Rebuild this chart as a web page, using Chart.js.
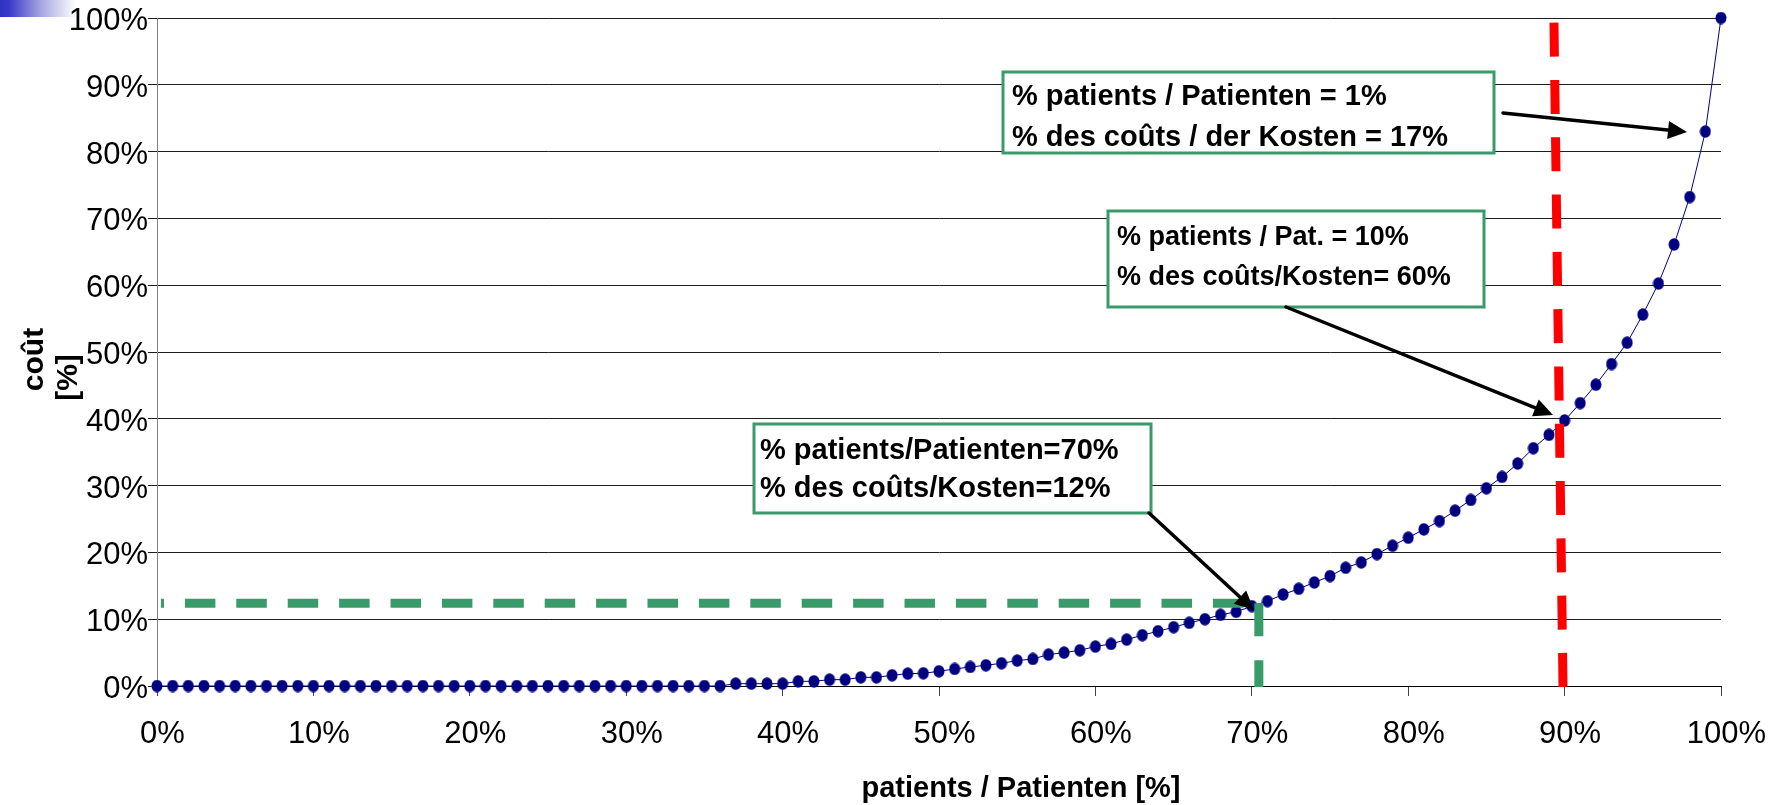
<!DOCTYPE html>
<html><head><meta charset="utf-8">
<script src="https://cdn.jsdelivr.net/npm/chart.js@4.4.0/dist/chart.umd.min.js"></script>
<style>html,body{margin:0;padding:0;background:#fff;overflow:hidden}#wrap{width:1787px;height:805px;position:relative}</style>
</head><body><div id="wrap"><canvas id="c" width="1787" height="805"></canvas></div>
<script>
// ---- data ----
const patientPct = [0,1,2,3,4,5,6,7,8,9,10,11,12,13,14,15,16,17,18,19,20,21,22,23,24,25,26,27,28,29,30,31,32,33,34,35,36,37,38,39,40,41,42,43,44,45,46,47,48,49,50,51,52,53,54,55,56,57,58,59,60,61,62,63,64,65,66,67,68,69,70,71,72,73,74,75,76,77,78,79,80,81,82,83,84,85,86,87,88,89,90,91,92,93,94,95,96,97,98,99,100];
const costPct = [0,0,0,0,0,0,0,0,0,0,0,0,0,0,0,0,0,0,0,0,0,0,0,0,0,0,0,0,0,0,0,0,0,0,0,0,0,
  0.35,0.35,0.35,0.35,0.7,0.7,0.95,0.95,1.3,1.3,1.6,1.85,1.9,
  2.2,2.55,2.85,3.1,3.4,3.8,4.05,4.7,5.0,5.35,5.9,6.3,6.95,7.6,8.2,8.8,9.45,10.0,10.65,11.1,
  11.95,12.7,13.7,14.55,15.5,16.45,17.7,18.5,19.75,21.0,22.2,23.45,24.7,26.25,27.85,29.6,31.3,33.3,35.6,37.6,
  39.75,42.35,45.1,48.2,51.4,55.6,60.25,66.1,73.2,83.0,100];
const xTickLabels = ['0%','10%','20%','30%','40%','50%','60%','70%','80%','90%','100%'];
const yTickLabels = ['0%','10%','20%','30%','40%','50%','60%','70%','80%','90%','100%'];
const xAxisTitle = 'patients / Patienten [%]';
const yAxisTitle = ['coût', '[%]'];
const box1Lines = ['% patients / Patienten = 1%', '% des coûts / der Kosten = 17%'];
const box2Lines = ['% patients / Pat. = 10%', '% des coûts/Kosten= 60%'];
const box3Lines = ['% patients/Patienten=70%', '% des coûts/Kosten=12%'];
// reference lines (values in %)
const greenRefCost = 12.4, greenRefPatients = 70.45;
const redRefPatientsTop = 89.32, redRefPatientsBottom = 89.9;

const FONT = '"Liberation Sans", Arial, Helvetica, sans-serif';
const GREEN = '#389b69';

// slightly tall elliptical marker like the reference
const marker = document.createElement('canvas');
marker.width = 12; marker.height = 13;
(function () {
  const m = marker.getContext('2d');
  m.fillStyle = '#000080';
  m.beginPath(); m.ellipse(6, 6.5, 5.5, 6.2, 0, 0, Math.PI * 2); m.fill();
})();

function arrow(ctx, x1, y1, x2, y2) {
  const ang = Math.atan2(y2 - y1, x2 - x1);
  const hl = 19, hw = 9;
  const bx = x2 - hl * Math.cos(ang), by = y2 - hl * Math.sin(ang);
  ctx.save();
  ctx.strokeStyle = '#000'; ctx.fillStyle = '#000'; ctx.lineWidth = 3.5; ctx.lineCap = 'round';
  ctx.beginPath(); ctx.moveTo(x1, y1); ctx.lineTo(bx + 2 * Math.cos(ang), by + 2 * Math.sin(ang)); ctx.stroke();
  ctx.beginPath();
  ctx.moveTo(x2, y2);
  ctx.lineTo(bx + hw * Math.sin(ang), by - hw * Math.cos(ang));
  ctx.lineTo(bx - hw * Math.sin(ang), by + hw * Math.cos(ang));
  ctx.closePath(); ctx.fill();
  ctx.restore();
}
function textBox(ctx, x1, y1, x2, y2, lines, tx, baselines, size) {
  ctx.save();
  ctx.fillStyle = '#fff';
  ctx.fillRect(x1, y1, x2 - x1, y2 - y1);
  ctx.strokeStyle = GREEN; ctx.lineWidth = 3;
  ctx.strokeRect(x1, y1, x2 - x1, y2 - y1);
  ctx.fillStyle = '#000';
  ctx.font = 'bold ' + size + 'px ' + FONT;
  ctx.textAlign = 'left'; ctx.textBaseline = 'alphabetic';
  lines.forEach((l, i) => ctx.fillText(l, tx, baselines[i]));
  ctx.restore();
}

const decorPlugin = {
  id: 'decor',
  beforeDraw(chart) {
    const ctx = chart.ctx;
    ctx.save();
    ctx.fillStyle = '#fff';
    ctx.fillRect(0, 0, chart.width, chart.height);
    const g = ctx.createLinearGradient(0, 0, 76, 0);
    g.addColorStop(0, '#3030c6');
    g.addColorStop(0.12, '#3a3ac9');
    g.addColorStop(0.55, '#a8a8e2');
    g.addColorStop(1, '#ffffff');
    ctx.fillStyle = g;
    ctx.fillRect(0, 0, 76, 17);
    ctx.restore();
  },
  afterDatasetsDraw(chart) {
    const ctx = chart.ctx;
    const xs = chart.scales.x, ys = chart.scales.y;
    ctx.save();
    ctx.lineCap = 'butt';
    // green dashed reference lines
    const gy = ys.getPixelForValue(greenRefCost);
    const gx = xs.getPixelForValue(greenRefPatients);
    ctx.strokeStyle = GREEN; ctx.lineWidth = 9;
    ctx.setLineDash([30.5, 20.9]);
    ctx.lineDashOffset = 27.4;
    ctx.beginPath(); ctx.moveTo(xs.getPixelForValue(0.25), gy); ctx.lineTo(gx, gy); ctx.stroke();
    ctx.setLineDash([33, 24]); ctx.lineDashOffset = 0;
    ctx.beginPath(); ctx.moveTo(gx, gy); ctx.lineTo(gx, ys.getPixelForValue(-0.15)); ctx.stroke();
    // red dashed line
    ctx.strokeStyle = '#ff0000'; ctx.lineWidth = 9;
    ctx.setLineDash([34, 23.3]); ctx.lineDashOffset = 0;
    ctx.beginPath();
    ctx.moveTo(xs.getPixelForValue(redRefPatientsTop), ys.getPixelForValue(99.3));
    ctx.lineTo(xs.getPixelForValue(redRefPatientsBottom), ys.getPixelForValue(-0.25));
    ctx.stroke();
    ctx.setLineDash([]);
    ctx.restore();
    // boxes
    textBox(ctx, 1003, 72, 1494, 153, box1Lines, 1012, [105, 146], 29);
    textBox(ctx, 1108, 211, 1484, 307, box2Lines, 1117, [245, 285], 27);
    textBox(ctx, 754, 424, 1151, 513, box3Lines, 760, [459, 497], 29);
    // arrows
    arrow(ctx, 1503, 113, 1687, 132);
    arrow(ctx, 1286, 307, 1553, 415);
    arrow(ctx, 1149, 513, 1254, 610);
    // axis titles
    ctx.save();
    ctx.fillStyle = '#000';
    ctx.font = 'bold 29px ' + FONT;
    ctx.textAlign = 'center'; ctx.textBaseline = 'alphabetic';
    ctx.fillText(xAxisTitle, 1021, 797);
    ctx.font = 'bold 30px ' + FONT;
    ctx.save(); ctx.translate(43, 359.5); ctx.rotate(-Math.PI / 2); ctx.fillText(yAxisTitle[0], 0, 0); ctx.restore();
    ctx.save(); ctx.translate(77, 377.5); ctx.rotate(-Math.PI / 2); ctx.fillText(yAxisTitle[1], 0, 0); ctx.restore();
    ctx.restore();
  }
};

Chart.defaults.font.family = FONT;
Chart.defaults.color = '#000';

new Chart(document.getElementById('c'), {
  type: 'line',
  data: {
    datasets: [{
      data: patientPct.map((p, i) => ({ x: p, y: costPct[i] })),
      borderColor: '#000080',
      borderWidth: 1,
      pointStyle: marker,
      pointRadius: 6,
      pointHoverRadius: 6,
      pointBackgroundColor: '#000080',
      pointBorderWidth: 0,
      tension: 0,
      clip: false
    }]
  },
  options: {
    responsive: false,
    animation: false,
    devicePixelRatio: 1,
    layout: { padding: { left: 0, top: 18, right: 66, bottom: 0 } },
    plugins: { legend: { display: false }, tooltip: { enabled: false }, title: { display: false } },
    events: [],
    scales: {
      x: {
        type: 'linear', min: 0, max: 100,
        ticks: {
          stepSize: 10, autoSkip: false, maxRotation: 0, padding: 20, labelOffset: 5.5,
          font: { size: 31 }, color: '#000',
          callback: (v, i) => xTickLabels[i]
        },
        grid: { drawOnChartArea: false, drawTicks: true, tickLength: 10, color: '#444', lineWidth: 1 },
        border: { display: true, color: '#000', width: 1 },
        afterFit: (s) => { s.height = 119; s.paddingLeft = 0; s.paddingRight = 0; }
      },
      y: {
        type: 'linear', min: 0, max: 100,
        ticks: {
          stepSize: 10, autoSkip: false, padding: 0, labelOffset: 3.5,
          font: { size: 31 }, color: '#000',
          callback: (v, i) => yTickLabels[i]
        },
        grid: { drawOnChartArea: true, drawTicks: true, tickLength: 9, color: '#1e1e1e', lineWidth: 1 },
        border: { display: true, color: '#808080', width: 1 },
        afterFit: (s) => { s.width = 157; s.paddingTop = 0; s.paddingBottom = 0; }
      }
    }
  },
  plugins: [decorPlugin]
});
</script></body></html>
